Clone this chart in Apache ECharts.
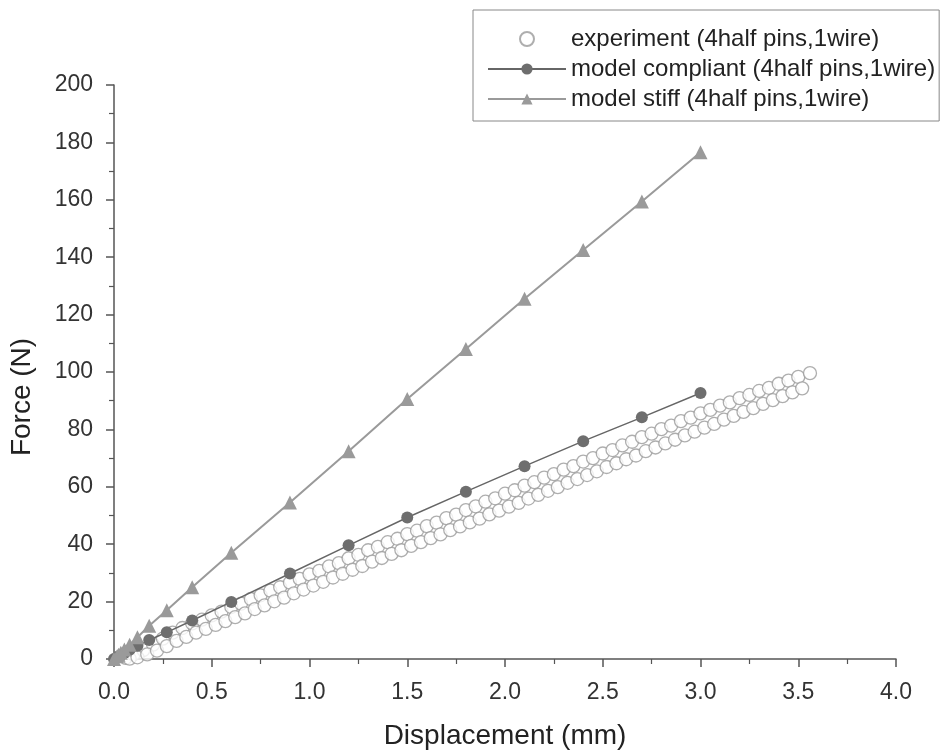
<!DOCTYPE html>
<html>
<head>
<meta charset="utf-8">
<script src="https://cdn.jsdelivr.net/npm/echarts@6/dist/echarts.min.js"></script>
<style>
html,body{margin:0;padding:0;background:#fff;}
#chart{width:945px;height:755px;}
</style>
</head>
<body>
<div id="chart"></div>
<script>
// ---- data ----
const seriesNames = [
  'experiment (4half pins,1wire)',
  'model compliant (4half pins,1wire)',
  'model stiff (4half pins,1wire)'
];
const xTicks = [0, 0.5, 1.0, 1.5, 2.0, 2.5, 3.0, 3.5, 4.0];
const yTicks = [0, 20, 40, 60, 80, 100, 120, 140, 160, 180, 200];

const modelX = [0, 0.016, 0.023, 0.035, 0.053, 0.08, 0.12, 0.18, 0.27, 0.4, 0.6, 0.9, 1.2, 1.5, 1.8, 2.1, 2.4, 2.7, 3.0];
const compliantF = [0, 0.6, 0.9, 1.4, 2.1, 3.2, 4.6, 6.6, 9.3, 13.4, 19.9, 29.8, 39.6, 49.3, 58.3, 67.2, 75.9, 84.2, 92.7];
const stiffF = [0, 1.0, 1.5, 2.2, 3.3, 5.0, 7.6, 11.6, 17.0, 25.0, 37.0, 54.5, 72.4, 90.6, 108.0, 125.5, 142.5, 159.4, 176.6];

const expUpperX = [0.06,0.10,0.15,0.20,0.25,0.30,0.35,0.40,0.45,0.50,0.55,0.60,0.65,0.70,0.75,0.80,0.85,0.90,0.95,1.00,
  1.05,1.10,1.15,1.20,1.25,1.30,1.35,1.40,1.45,1.50,1.55,1.60,1.65,1.70,1.75,1.80,1.85,1.90,1.95,2.00,
  2.05,2.10,2.15,2.20,2.25,2.30,2.35,2.40,2.45,2.50,2.55,2.60,2.65,2.70,2.75,2.80,2.85,2.90,2.95,3.00,
  3.05,3.10,3.15,3.20,3.25,3.30,3.35,3.40,3.45,3.50,3.56];
const expUpperF = [0.4,1.6,3.1,5.0,7.1,9.2,10.8,12.4,13.7,15.2,16.5,18.1,19.3,20.9,22.2,23.8,25.0,26.6,27.9,29.5,
  30.7,32.3,33.4,35.1,36.3,37.9,39.1,40.7,41.9,43.5,44.7,46.3,47.5,49.1,50.3,51.9,53.2,54.8,56.0,57.6,
  58.8,60.4,61.6,63.2,64.4,66.0,67.2,68.8,70.0,71.6,72.8,74.4,75.7,77.3,78.5,80.1,81.3,82.9,84.1,85.6,
  86.8,88.3,89.4,90.9,92.0,93.4,94.5,95.9,97.0,98.3,99.6];
const expLowerX = [0.08,0.12,0.17,0.22,0.27,0.32,0.37,0.42,0.47,0.52,0.57,0.62,0.67,0.72,0.77,0.82,0.87,0.92,0.97,1.02,
  1.07,1.12,1.17,1.22,1.27,1.32,1.37,1.42,1.47,1.52,1.57,1.62,1.67,1.72,1.77,1.82,1.87,1.92,1.97,2.02,
  2.07,2.12,2.17,2.22,2.27,2.32,2.37,2.42,2.47,2.52,2.57,2.62,2.67,2.72,2.77,2.82,2.87,2.92,2.97,3.02,
  3.07,3.12,3.17,3.22,3.27,3.32,3.37,3.42,3.47,3.52];
const expLowerF = [0.1,0.6,1.6,2.9,4.5,6.3,7.7,9.2,10.5,11.9,13.2,14.6,15.9,17.4,18.7,20.1,21.4,22.9,24.2,25.6,
  26.9,28.4,29.7,31.1,32.4,33.9,35.2,36.6,37.9,39.4,40.7,42.1,43.4,44.9,46.2,47.6,48.9,50.4,51.7,53.1,
  54.4,55.9,57.2,58.6,59.9,61.4,62.7,64.1,65.4,66.9,68.2,69.6,70.9,72.4,73.7,75.1,76.4,77.9,79.2,80.6,
  81.9,83.4,84.7,86.1,87.4,88.9,90.2,91.6,92.9,94.3];

// ---- build ----
const zip = (xs, ys) => xs.map((x, i) => [x, ys[i]]);
const expData = zip(expUpperX, expUpperF).concat(zip(expLowerX, expLowerF));

const chart = echarts.init(document.getElementById('chart'), null, {renderer: 'canvas'});
const FONT = 'Liberation Sans, Arial, sans-serif';
const axisColor = '#555';

chart.setOption({
  animation: false,
  backgroundColor: '#fff',
  grid: {left: 114, right: 49, top: 85, bottom: 93, containLabel: false},
  legend: {
    orient: 'vertical',
    left: 473, top: 10,
    padding: [17, 4, 10, 14],
    itemWidth: 78, itemHeight: 14, itemGap: 6,
    borderColor: '#888', borderWidth: 1,
    textStyle: {fontFamily: FONT, fontSize: 24, color: '#222'},
    data: seriesNames
  },
  xAxis: {
    type: 'value', min: xTicks[0], max: xTicks[xTicks.length - 1], interval: 0.5,
    name: 'Displacement (mm)', nameLocation: 'middle', nameGap: 63,
    nameTextStyle: {fontFamily: FONT, fontSize: 28, color: '#222'},
    axisLine: {show: true, onZero: false, lineStyle: {color: axisColor, width: 1.5}},
    axisTick: {show: true, inside: false, length: 8, lineStyle: {color: axisColor, width: 1.5}},
    minorTick: {show: true, splitNumber: 2, length: 5, lineStyle: {color: axisColor, width: 1.2}},
    axisLabel: {margin: 22, fontFamily: FONT, fontSize: 23, color: '#333',
      formatter: v => v.toFixed(1)},
    splitLine: {show: false}
  },
  yAxis: {
    type: 'value', min: yTicks[0], max: yTicks[yTicks.length - 1], interval: 20,
    name: 'Force (N)', nameLocation: 'middle', nameGap: 78, nameRotate: 90,
    nameTextStyle: {fontFamily: FONT, fontSize: 28, color: '#222', padding: [0, 50, 0, 0]},
    axisLine: {show: true, onZero: false, lineStyle: {color: axisColor, width: 1.5}},
    axisTick: {show: true, inside: false, length: 8, lineStyle: {color: axisColor, width: 1.5}},
    minorTick: {show: true, splitNumber: 2, length: 5, lineStyle: {color: axisColor, width: 1.2}},
    axisLabel: {margin: 21, fontFamily: FONT, fontSize: 23, color: '#333'},
    splitLine: {show: false}
  },
  series: [
    {
      name: seriesNames[0], type: 'scatter', data: expData,
      symbol: 'circle', symbolSize: 13,
      itemStyle: {color: '#fff', borderColor: '#9a9a9a', borderWidth: 1.3},
      z: 2
    },
    {
      name: seriesNames[1], type: 'line', data: zip(modelX, compliantF),
      symbol: 'circle', symbolSize: 12, showSymbol: true,
      lineStyle: {color: '#666', width: 1.5},
      itemStyle: {color: '#6e6e6e', borderColor: '#6e6e6e', borderWidth: 0},
      z: 3
    },
    {
      name: seriesNames[2], type: 'line', data: zip(modelX, stiffF),
      symbol: 'triangle', symbolSize: 14, showSymbol: true,
      lineStyle: {color: '#9a9a9a', width: 2},
      itemStyle: {color: '#9a9a9a', borderColor: '#9a9a9a', borderWidth: 0},
      z: 4
    }
  ]
});
</script>
</body>
</html>
